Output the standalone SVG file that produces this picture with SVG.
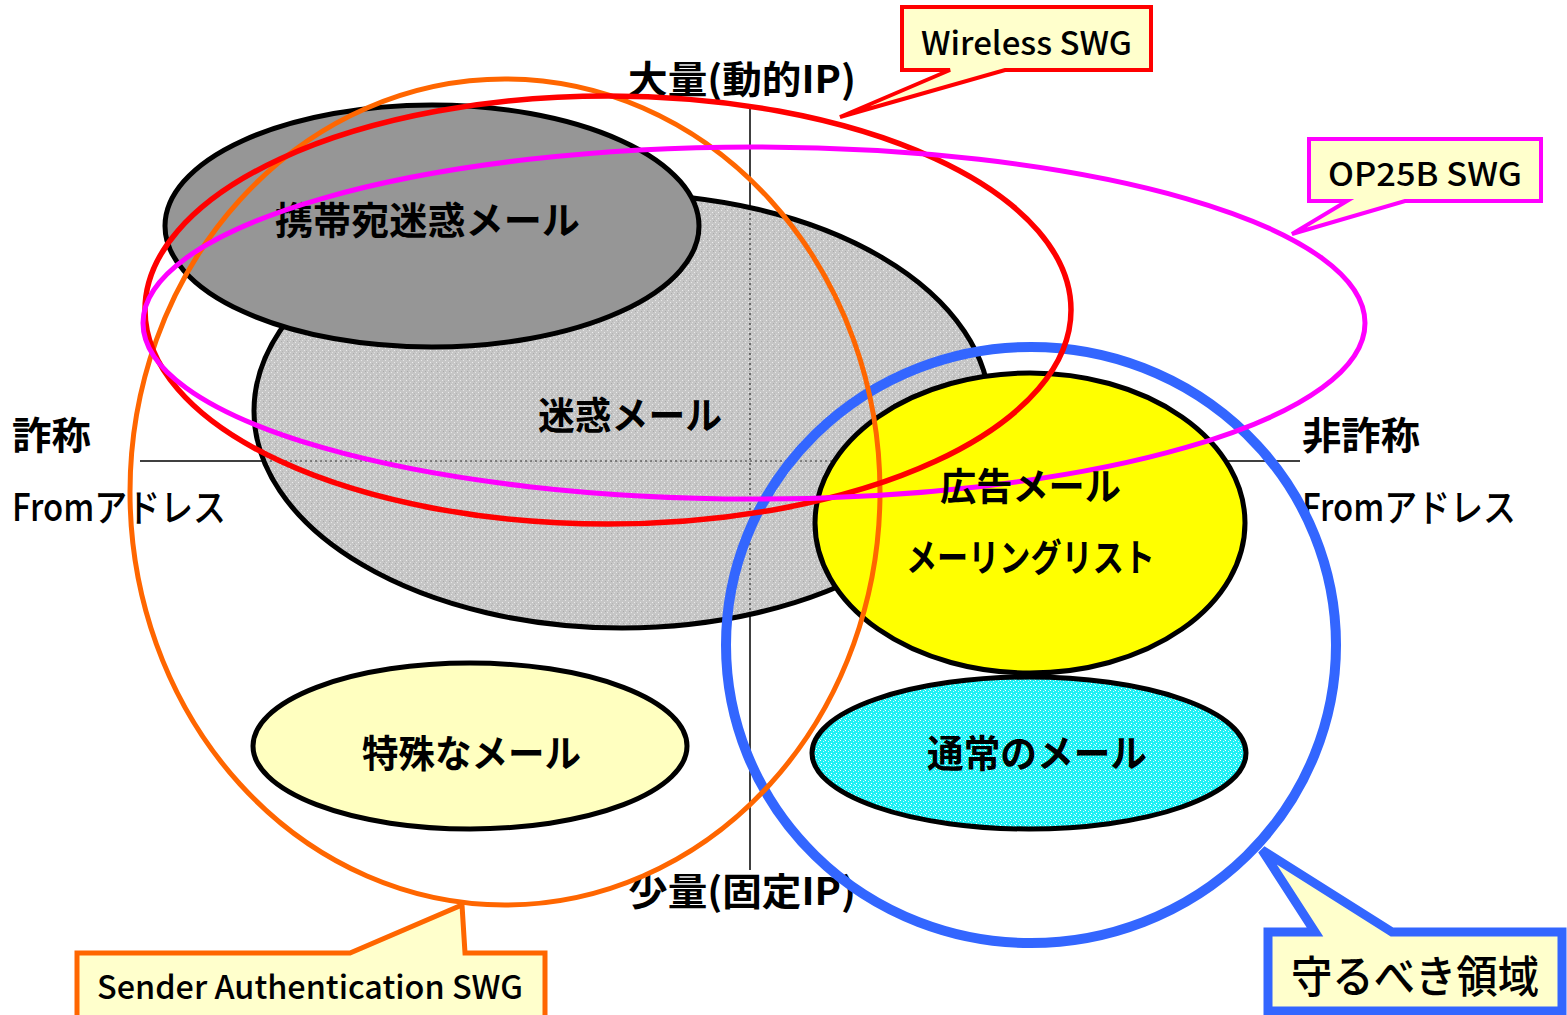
<svg xmlns="http://www.w3.org/2000/svg" width="1567" height="1015" viewBox="0 0 1567 1015">
<style>
.node{stroke:#000;stroke-width:5}
.jp{font-family:"Noto Sans CJK JP","Noto Sans",sans-serif;fill:#000}
.lbl{font-size:38px;font-weight:bold}
.ax{font-size:38px;font-weight:bold}
.axr{font-size:38px;font-weight:500}
.co{font-family:"Noto Sans CJK JP","Noto Sans",sans-serif;font-size:32px;font-weight:500;fill:#000}
.axis{stroke:#000;stroke-width:1.5;fill:none}
.ring{fill:none}
.callout{fill:#ffffcc;stroke-linejoin:miter}
</style>
<defs>
<pattern id="pgray" width="6" height="6" patternUnits="userSpaceOnUse">
<rect width="6" height="6" fill="#c6c6c6"/>
<rect x="1" y="0" width="1" height="1" fill="#e8e8e8"/>
<rect x="4" y="2" width="1" height="1" fill="#ececec"/>
<rect x="2" y="4" width="1" height="1" fill="#e0e0e0"/>
<rect x="5" y="5" width="1" height="1" fill="#aaaaaa"/>
<rect x="0" y="3" width="1" height="1" fill="#b4b4b4"/>
</pattern>
<pattern id="pcyan" width="5" height="5" patternUnits="userSpaceOnUse">
<rect width="5" height="5" fill="#1ef0f4"/>
<rect x="0" y="0" width="1" height="1" fill="#ffffff"/>
<rect x="3" y="1" width="1" height="1" fill="#c8ffff"/>
<rect x="1" y="3" width="1" height="1" fill="#ffffff"/>
<rect x="4" y="4" width="1" height="1" fill="#b0ffff"/>
</pattern>
<clipPath id="cgray"><ellipse cx="622" cy="411" rx="365" ry="214"/></clipPath>
</defs>
<rect width="1567" height="1015" fill="#fff"/>

<g id="axes">
<line class="axis" x1="140" y1="461" x2="1300" y2="461"/>
<line class="axis" x1="750" y1="108" x2="750" y2="870"/>
</g>

<g id="spam">
<ellipse class="node" cx="622" cy="411" rx="368" ry="217" fill="url(#pgray)"/>
<g clip-path="url(#cgray)">
<line x1="140" y1="461" x2="1300" y2="461" stroke="#333" stroke-width="1.2" stroke-dasharray="2 3"/>
<line x1="750" y1="108" x2="750" y2="870" stroke="#333" stroke-width="1.2" stroke-dasharray="2 3"/>
</g>
<text class="jp lbl" x="538" y="429" textLength="184" lengthAdjust="spacingAndGlyphs">迷惑メール</text>
</g>

<g id="mobile-spam">
<ellipse class="node" cx="432" cy="226" rx="267" ry="121" fill="#969696"/>
<text class="jp lbl" x="275" y="234" textLength="305" lengthAdjust="spacingAndGlyphs">携帯宛迷惑メール</text>
</g>

<g id="ad-mail">
<ellipse class="node" cx="1030" cy="523" rx="215" ry="150" fill="#ffff00"/>
</g>

<g id="normal-mail">
<ellipse class="node" cx="1029" cy="753" rx="217" ry="76" fill="url(#pcyan)"/>
<text class="jp lbl" x="927" y="767" textLength="220" lengthAdjust="spacingAndGlyphs">通常のメール</text>
</g>

<g id="special-mail">
<ellipse class="node" cx="470" cy="746" rx="217" ry="83" fill="#ffffc0"/>
<text class="jp lbl" x="362" y="767" textLength="219" lengthAdjust="spacingAndGlyphs">特殊なメール</text>
</g>

<g id="axis-labels">
<text class="jp ax" x="628" y="93" textLength="228" lengthAdjust="spacingAndGlyphs">大量(動的IP)</text>
<text class="jp ax" x="628" y="905" textLength="228" lengthAdjust="spacingAndGlyphs">少量(固定IP)</text>
<text class="jp ax" x="12" y="449" textLength="79" lengthAdjust="spacingAndGlyphs">詐称</text>
<text class="jp axr" x="12" y="521" textLength="214" lengthAdjust="spacingAndGlyphs">Fromアドレス</text>
<text class="jp ax" x="1302" y="449" textLength="118" lengthAdjust="spacingAndGlyphs">非詐称</text>
<text class="jp axr" x="1302" y="521" textLength="214" lengthAdjust="spacingAndGlyphs">Fromアドレス</text>
</g>

<g id="connectors">
<ellipse id="ring-protect" class="ring" cx="1031" cy="645" rx="305" ry="298" stroke="#3366ff" stroke-width="10"/>
<ellipse id="ring-sender" class="ring" cx="505" cy="492" rx="375" ry="413" stroke="#ff6600" stroke-width="5"/>
<ellipse id="ring-wireless" class="ring" cx="608" cy="310" rx="463" ry="214" stroke="#ff0000" stroke-width="5.5"/>
<ellipse id="ring-op25b" class="ring" cx="754" cy="323" rx="611" ry="176" stroke="#ff00ff" stroke-width="5"/>
</g>

<g id="ad-mail-labels">
<text class="jp lbl" x="940" y="500" textLength="181" lengthAdjust="spacingAndGlyphs">広告メール</text>
<text class="jp lbl" x="906" y="571" textLength="249" lengthAdjust="spacingAndGlyphs">メーリングリスト</text>
</g>

<g id="callout-wireless">
<path class="callout" d="M902,7 H1151 V70 H1005 L840,117 L950,70 H902 Z" stroke="#ff0000" stroke-width="4"/>
<text class="co" x="921" y="55" textLength="211" lengthAdjust="spacingAndGlyphs">Wireless SWG</text>
</g>

<g id="callout-op25b">
<path class="callout" d="M1309,139 H1541 V201 H1405 L1292,234 L1347,201 H1309 Z" stroke="#ff00ff" stroke-width="4"/>
<text class="co" x="1328" y="186" textLength="194" lengthAdjust="spacingAndGlyphs">OP25B SWG</text>
</g>

<g id="callout-sender">
<path class="callout" d="M77,953 H350 L462,905 L465,953 H545 V1030 H77 Z" stroke="#ff6600" stroke-width="5"/>
<text class="co" x="97" y="999" textLength="426" lengthAdjust="spacingAndGlyphs">Sender Authentication SWG</text>
</g>

<g id="callout-protect">
<path class="callout" d="M1268,932 H1315 L1262,850 L1392,932 H1562 V1011 H1268 Z" stroke="#3366ff" stroke-width="9"/>
<text class="jp" x="1291" y="993" font-size="44" font-weight="500" textLength="248" lengthAdjust="spacingAndGlyphs">守るべき領域</text>
</g>
</svg>
